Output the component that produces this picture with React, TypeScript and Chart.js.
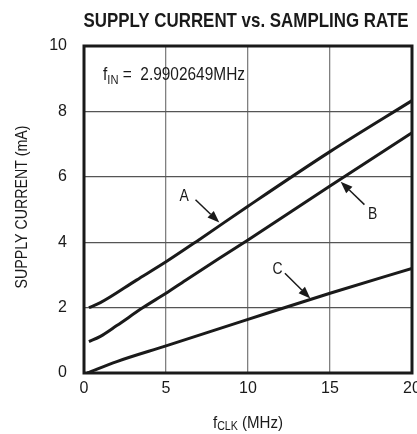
import React, { useEffect, useRef } from "react";
import { Chart, registerables } from "chart.js";
Chart.register(...registerables);

const TITLE = "SUPPLY CURRENT vs. SAMPLING RATE";
const X_TICKS = [0, 5, 10, 15, 20];
const Y_TICKS = [0, 2, 4, 6, 8, 10];
const A_X = [0.3, 1, 3.2, 5, 7, 10, 15, 20];
const A_Y = [2.0, 2.15, 2.84, 3.4, 4.07, 5.1, 6.77, 8.33];
const B_X = [0.3, 1, 2, 3.6, 5, 6.2, 10, 15, 20];
const B_Y = [0.96, 1.12, 1.45, 2.0, 2.44, 2.84, 4.07, 5.72, 7.35];
const C_X = [0.2, 2, 5, 10, 15, 20];
const C_Y = [0, 0.35, 0.83, 1.64, 2.44, 3.2];
const CURVE_LABELS = ["A", "B", "C"];
const LABEL_POS = [[6.1, 5.44], [17.6, 4.9], [11.8, 3.2]];
const ARROW_FROM = [[6.8, 5.3], [17.1, 5.15], [12.25, 3.05]];
const ARROW_TO = [[8.25, 4.6], [15.65, 5.85], [13.8, 2.28]];
const FIN_TEXT = "2.9902649MHz";
const Y_TITLE = "SUPPLY CURRENT (mA)";

const FONT = '"Liberation Sans", Arial, sans-serif';
const INK = "#1a1a1a";

const pts = (xs: number[], ys: number[]) => xs.map((x, i) => ({ x, y: ys[i] }));

type Part = { t: string; f: string; dy?: number };

function rich(ctx: any, parts: Part[], x: number, y: number, opts: { sx?: number; width?: number; align?: string; rot?: number }) {
  let w = 0;
  parts.forEach((p) => { ctx.font = p.f; w += ctx.measureText(p.t).width; });
  const sx = opts.width ? opts.width / w : opts.sx || 1;
  ctx.save();
  ctx.translate(x, y);
  if (opts.rot) ctx.rotate(opts.rot);
  ctx.scale(sx, 1);
  let cx = opts.align === "center" ? -w / 2 : opts.align === "right" ? -w : 0;
  ctx.textAlign = "left";
  parts.forEach((p) => {
    ctx.font = p.f;
    ctx.fillText(p.t, cx, p.dy || 0);
    cx += ctx.measureText(p.t).width;
  });
  ctx.restore();
}

const decor = {
  id: "decor",
  afterDraw(chart: any) {
    const { ctx, chartArea: ca, scales } = chart;
    const xs = scales.x, ys = scales.y;
    ctx.save();
    ctx.strokeStyle = INK;
    ctx.lineWidth = 3;
    ctx.strokeRect(ca.left, ca.top, ca.right - ca.left, ca.bottom - ca.top);
    ctx.fillStyle = INK;
    ctx.textBaseline = "alphabetic";
    // title
    rich(ctx, [{ t: TITLE, f: `bold 21px ${FONT}` }], (ca.left + ca.right) / 2 - 2, 27, { width: 325, align: "center" });
    // f_IN label
    rich(ctx, [
      { t: "f", f: `18px ${FONT}` },
      { t: "IN", f: `13px ${FONT}`, dy: 4 },
      { t: " =  ", f: `18px ${FONT}` },
      { t: FIN_TEXT, f: `18px ${FONT}` },
    ], ca.left + 19, ca.top + 34, { width: 142 });
    // x title
    rich(ctx, [
      { t: "f", f: `17px ${FONT}` },
      { t: "CLK", f: `12px ${FONT}`, dy: 2 },
      { t: " (MHz)", f: `17px ${FONT}` },
    ], (ca.left + ca.right) / 2, 428, { width: 70, align: "center" });
    // y title
    rich(ctx, [{ t: Y_TITLE, f: `17px ${FONT}` }], 27, 207, { width: 163, align: "center", rot: -Math.PI / 2 });
    // curve labels + arrows
    CURVE_LABELS.forEach((lab, i) => {
      const lx = xs.getPixelForValue(LABEL_POS[i][0]);
      const ly = ys.getPixelForValue(LABEL_POS[i][1]);
      rich(ctx, [{ t: lab, f: `17px ${FONT}` }], lx, ly + 6, { sx: 0.82, align: "center" });
      const fx = xs.getPixelForValue(ARROW_FROM[i][0]);
      const fy = ys.getPixelForValue(ARROW_FROM[i][1]);
      const tx = xs.getPixelForValue(ARROW_TO[i][0]);
      const ty = ys.getPixelForValue(ARROW_TO[i][1]);
      const ang = Math.atan2(ty - fy, tx - fx);
      const hl = 12, hw = 4.5;
      const bx = tx - hl * Math.cos(ang), byy = ty - hl * Math.sin(ang);
      ctx.strokeStyle = INK;
      ctx.lineWidth = 1.5;
      ctx.beginPath();
      ctx.moveTo(fx, fy);
      ctx.lineTo(bx, byy);
      ctx.stroke();
      ctx.beginPath();
      ctx.moveTo(tx, ty);
      ctx.lineTo(bx + hw * Math.sin(ang), byy - hw * Math.cos(ang));
      ctx.lineTo(bx - hw * Math.sin(ang), byy + hw * Math.cos(ang));
      ctx.closePath();
      ctx.fill();
    });
    ctx.restore();
  },
};

export default function App() {
  const ref = useRef<HTMLCanvasElement>(null);
  useEffect(() => {
    if (!ref.current) return;
    const ds = (data: any) => ({
      data,
      borderColor: INK,
      borderWidth: 3,
      pointRadius: 0,
      cubicInterpolationMode: "monotone" as const,
      fill: false,
    });
    const chart = new Chart(ref.current, {
      type: "line",
      data: { datasets: [ds(pts(A_X, A_Y)), ds(pts(B_X, B_Y)), ds(pts(C_X, C_Y))] },
      options: {
        animation: false,
        responsive: false,
        layout: { padding: { top: 46, left: 0, right: 5, bottom: 0 }, autoPadding: false } as any,
        plugins: { legend: { display: false }, title: { display: false }, tooltip: { enabled: false } },
        scales: {
          x: {
            type: "linear",
            min: 0,
            max: 20,
            afterFit: (s: any) => { s.height = 61; s.paddingLeft = 0; s.paddingRight = 0; },
            afterBuildTicks: (s: any) => { s.ticks = X_TICKS.map((v) => ({ value: v })); },
            grid: { color: "#808080", lineWidth: 1.3, drawTicks: false },
            border: { display: false },
            ticks: { padding: 6, color: INK, font: { family: FONT, size: 16 } },
          },
          y: {
            type: "linear",
            min: 0,
            max: 10,
            afterFit: (s: any) => { s.width = 84; s.paddingTop = 0; s.paddingBottom = 0; },
            afterBuildTicks: (s: any) => { s.ticks = Y_TICKS.map((v) => ({ value: v })); },
            grid: { color: "#555", lineWidth: 1.2, drawTicks: false },
            border: { display: false },
            ticks: { padding: 17, color: INK, font: { family: FONT, size: 16 } },
          },
        },
      },
      plugins: [decor],
    });
    return () => chart.destroy();
  }, []);
  return (
    <div style={{ position: "absolute", left: 0, top: 0, width: 417, height: 434, background: "#fff" }}>
      <canvas ref={ref} width={417} height={434} style={{ display: "block" }} />
    </div>
  );
}
